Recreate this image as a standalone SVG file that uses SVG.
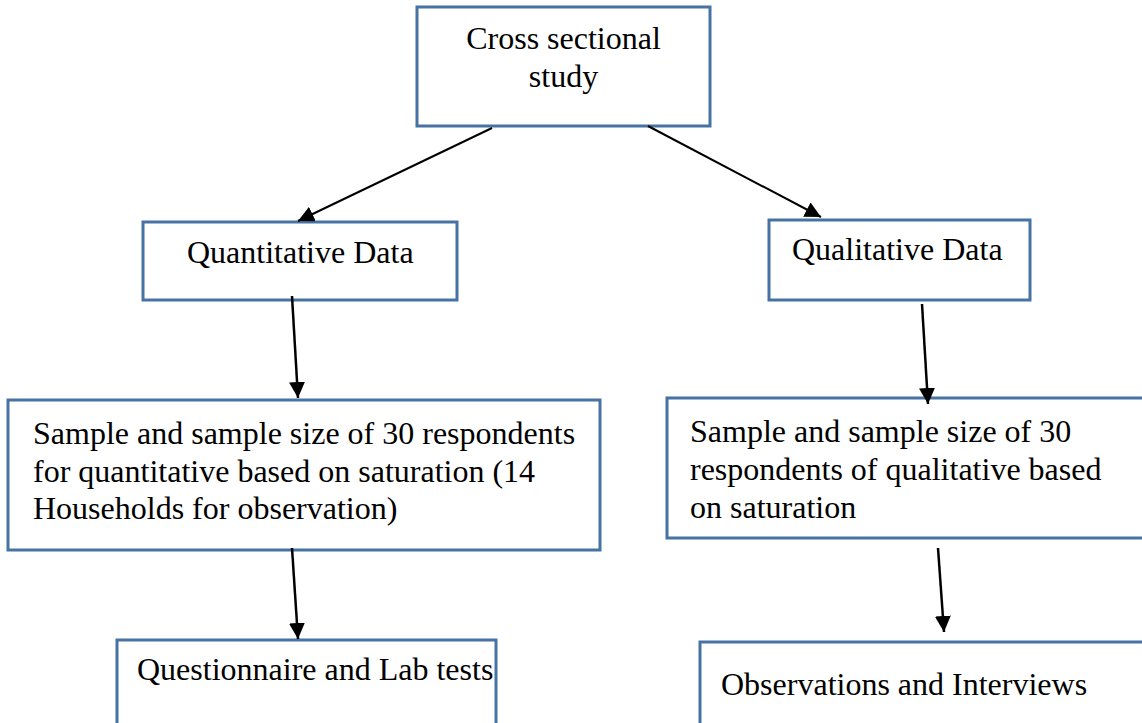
<svg xmlns="http://www.w3.org/2000/svg" width="1142" height="723" viewBox="0 0 1142 723">
<style>
.box{fill:#fff;stroke:#4672a4;stroke-width:3}
.t{font-family:"Liberation Serif","Times New Roman",serif;font-size:32px;fill:#000}
.c{stroke:#000;stroke-width:2;fill:none}
.v{stroke-width:2.5}
</style>
<defs>
<marker id="ah2" viewBox="0 0 10 10" refX="10" refY="5" markerWidth="16" markerHeight="16" markerUnits="userSpaceOnUse" orient="auto">
<path d="M0,0 L10,5 L0,10 z" fill="#000"/>
</marker>
</defs>
<rect width="1142" height="723" fill="#fff"/>
<g id="n-cross">
<rect class="box" x="417" y="7" width="293" height="119"/>
<text class="t" x="563.5" y="49" text-anchor="middle">Cross sectional</text>
<text class="t" x="563.5" y="87" text-anchor="middle">study</text>
</g>
<g id="n-quant">
<rect class="box" x="143" y="222" width="314" height="78"/>
<text class="t" x="187" y="263">Quantitative Data</text>
</g>
<g id="n-qual">
<rect class="box" x="769" y="220" width="261" height="80"/>
<text class="t" x="792" y="260">Qualitative Data</text>
</g>
<g id="n-sample-quant">
<rect class="box" x="8" y="400" width="592" height="150"/>
<text class="t" x="33" y="444">Sample and sample size of 30 respondents</text>
<text class="t" x="33" y="482">for quantitative based on saturation (14</text>
<text class="t" x="33" y="519">Households for observation)</text>
</g>
<g id="n-sample-qual">
<rect class="box" x="667" y="398" width="480" height="140"/>
<text class="t" x="690" y="442">Sample and sample size of 30</text>
<text class="t" x="690" y="480">respondents of qualitative based</text>
<text class="t" x="690" y="518">on saturation</text>
</g>
<g id="n-questionnaire">
<rect class="box" x="117" y="640" width="379" height="100"/>
<text class="t" x="137" y="680">Questionnaire and Lab tests</text>
</g>
<g id="n-observations">
<rect class="box" x="700" y="642" width="450" height="100"/>
<text class="t" x="721" y="695">Observations and Interviews</text>
</g>
<g id="connectors">
<line class="c" x1="492" y1="128" x2="298" y2="221" marker-end="url(#ah2)"/>
<line class="c" x1="648" y1="126" x2="821" y2="217" marker-end="url(#ah2)"/>
<line class="c v" x1="292" y1="296" x2="298" y2="398" marker-end="url(#ah2)"/>
<line class="c v" x1="922" y1="304" x2="928" y2="404" marker-end="url(#ah2)"/>
<line class="c v" x1="292" y1="548" x2="298" y2="639" marker-end="url(#ah2)"/>
<line class="c v" x1="938" y1="548" x2="944" y2="632" marker-end="url(#ah2)"/>
</g>
</svg>
